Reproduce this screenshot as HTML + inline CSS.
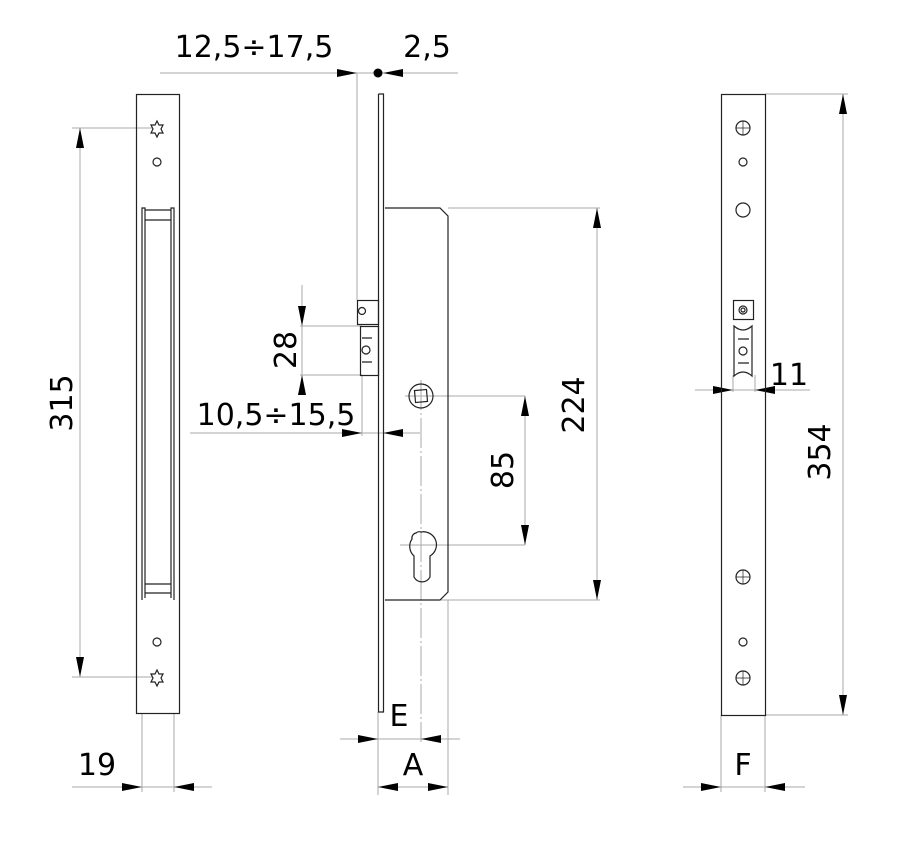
<!DOCTYPE html>
<html><head><style>
html,body{margin:0;padding:0;background:#fff}
svg{display:block}
text{font-family:"DejaVu Sans","Liberation Sans",sans-serif;font-size:30px;fill:#000}
</style></head><body>
<svg width="922" height="852" viewBox="0 0 922 852" xmlns="http://www.w3.org/2000/svg">
<g fill="none" stroke="#aaa" stroke-width="1">
<line x1="72" y1="128" x2="152" y2="128"/><line x1="72" y1="677" x2="152" y2="677"/>
<line x1="80" y1="128" x2="80" y2="677"/>
<line x1="142" y1="713" x2="142" y2="792"/><line x1="174" y1="713" x2="174" y2="792"/>
<line x1="72" y1="787" x2="212" y2="787"/>
<line x1="160" y1="73" x2="458" y2="73"/>
<line x1="357" y1="73" x2="357" y2="300"/>
<line x1="300" y1="326" x2="362" y2="326"/><line x1="300" y1="375" x2="362" y2="375"/>
<line x1="302" y1="285" x2="302" y2="395"/>
<line x1="190" y1="433" x2="420" y2="433"/>
<line x1="362" y1="375" x2="362" y2="436"/>
<line x1="405" y1="396" x2="525" y2="396"/>
<line x1="400" y1="545" x2="525" y2="545"/>
<line x1="525" y1="396" x2="525" y2="545"/>
<line x1="448" y1="208" x2="600" y2="208"/><line x1="385" y1="600" x2="600" y2="600"/>
<line x1="597" y1="208" x2="597" y2="600"/>
<line x1="421" y1="380" x2="421" y2="742" stroke-dasharray="30,3,2,3"/>
<line x1="378" y1="712" x2="378" y2="795"/><line x1="448" y1="600" x2="448" y2="795"/>
<line x1="340" y1="739" x2="460" y2="739"/>
<line x1="378" y1="787" x2="448" y2="787"/>
<line x1="765" y1="94" x2="848" y2="94"/><line x1="765" y1="715" x2="848" y2="715"/>
<line x1="843" y1="94" x2="843" y2="715"/>
<line x1="695" y1="390" x2="810" y2="390"/>
<line x1="733" y1="375" x2="733" y2="392"/><line x1="755" y1="375" x2="755" y2="392"/>
<line x1="721" y1="715" x2="721" y2="792"/><line x1="765" y1="715" x2="765" y2="792"/>
<line x1="683" y1="787" x2="805" y2="787"/>
</g>
<g stroke="none" fill="#000">
<path d="M80,128l-4,20h8z"/><path d="M80,677l-4,-20h8z"/>
<path d="M142,787l-20,-4v8z"/><path d="M174,787l20,-4v8z"/>
<path d="M357,73l-20,-4v8z"/><path d="M383,73l20,-4v8z"/>
<circle cx="378" cy="73" r="4.5"/>
<path d="M302,326l-4,-20h8z"/><path d="M302,375l-4,20h8z"/>
<path d="M362,433l-20,-4v8z"/><path d="M383,433l20,-4v8z"/>
<path d="M525,396l-4,20h8z"/><path d="M525,545l-4,-20h8z"/>
<path d="M597,208l-4,20h8z"/><path d="M597,600l-4,-20h8z"/>
<path d="M378,739l-20,-4v8z"/><path d="M421,739l20,-4v8z"/>
<path d="M378,787l20,-4v8z"/><path d="M448,787l-20,-4v8z"/>
<path d="M843,94l-4,20h8z"/><path d="M843,715l-4,-20h8z"/>
<path d="M733,390l-20,-4v8z"/><path d="M755,390l20,-4v8z"/>
<path d="M721,787l-20,-4v8z"/><path d="M765,787l20,-4v8z"/>
</g>
<g fill="none" stroke="#222" stroke-width="1.2">
<rect x="136.5" y="94.5" width="43" height="619"/>
<path d="M142,600V208h3v390M174,600V208h-3v390M145,210h26M145,220h26M145,584h26M145,593h26"/>
<circle cx="157" cy="162" r="4"/><circle cx="157" cy="642" r="4"/>
<path d="M157,121l2,4l4,0l-2,4l2,4l-4,0l-2,4l-2,-4l-4,0l2,-4l-2,-4l4,0z"/>
<path d="M157,670l2,4l4,0l-2,4l2,4l-4,0l-2,4l-2,-4l-4,0l2,-4l-2,-4l4,0z"/>
<path d="M378.5,94V712h5V94h-5"/>
<path d="M385,208H440l8,8V592l-8,8H385"/>
<rect x="357.5" y="300.5" width="21" height="24"/><circle cx="362" cy="311" r="3.5"/>
<rect x="360.5" y="326.5" width="18" height="49"/>
<circle cx="366" cy="350" r="4"/><path d="M362,338h10M362,362h10"/>
<circle cx="421" cy="396" r="12"/><rect x="415" y="390" width="12" height="12" transform="rotate(-5 421 396)"/>
<path d="M414,556a13,13 0 0 1 -2,-17a5,5 0 0 1 4,-6a5,5 0 0 1 5,-1a13,13 0 0 1 9,24v21a9,9 0 0 1 -16,0z"/>
<rect x="721.5" y="94.5" width="44" height="621"/>
<circle cx="743" cy="128" r="7"/><circle cx="743" cy="577" r="7"/><circle cx="743" cy="678" r="7"/>
<path d="M736,128h14M743,121v14M736,577h14M743,570v14M736,678h14M743,671v14" stroke-width="0.7"/>
<circle cx="743" cy="162" r="4"/><circle cx="743" cy="210" r="7"/><circle cx="743" cy="642" r="4"/>
<rect x="733.5" y="300.5" width="20" height="19"/><circle cx="743" cy="310" r="4"/><circle cx="743" cy="310" r="2"/>
<path d="M734,326q9,8 18,0v50q-9,-8 -18,0z"/>
<path d="M738,339h11M738,363h11"/><circle cx="743" cy="351" r="4"/>
</g>
<g>
<text x="254" y="57" text-anchor="middle">12,5÷17,5</text>
<text x="427" y="57" text-anchor="middle">2,5</text>
<text x="276" y="425" text-anchor="middle">10,5÷15,5</text>
<text x="97" y="775" text-anchor="middle">19</text>
<text x="399" y="726" text-anchor="middle">E</text>
<text x="413" y="775" text-anchor="middle">A</text>
<text x="743" y="775" text-anchor="middle">F</text>
<text x="789" y="385" text-anchor="middle">11</text>
<text transform="translate(72,403) rotate(-90)" text-anchor="middle">315</text>
<text transform="translate(296,350) rotate(-90)" text-anchor="middle">28</text>
<text transform="translate(513,470) rotate(-90)" text-anchor="middle">85</text>
<text transform="translate(584,405) rotate(-90)" text-anchor="middle">224</text>
<text transform="translate(830,452) rotate(-90)" text-anchor="middle">354</text>
</g>
</svg>
</body></html>
